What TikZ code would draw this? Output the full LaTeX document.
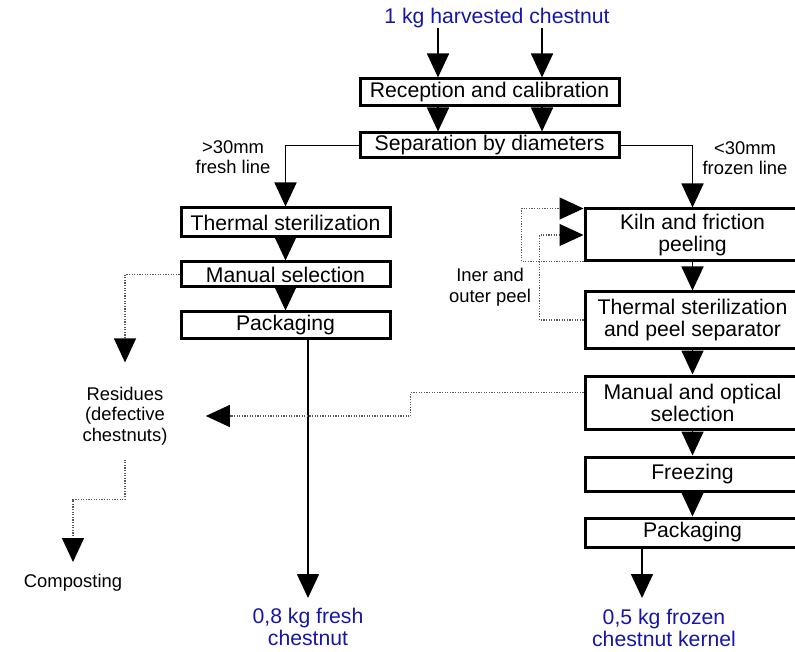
\documentclass[tikz,border=0pt]{standalone}
\usepackage{fontspec}
\setmainfont{Liberation Sans}
\usepackage{tikz}
\usetikzlibrary{arrows.meta,calc}
\definecolor{massblue}{RGB}{22,22,168}
\definecolor{dotgray}{RGB}{90,90,90}

\begin{document}
\begin{tikzpicture}[x=0.5pt,y=-0.5pt,
  procbox/.style={draw, line width=1.5pt, inner sep=0pt, align=center, font=\fontsize{10.6}{11}\selectfont},
  note/.style={inner sep=0pt, align=center, font=\fontsize{9.2}{10.3}\selectfont},
  mass/.style={inner sep=0pt, align=center, text=massblue, font=\fontsize{10.6}{11.2}\selectfont},
  flow/.style={line width=0.85pt, -{Triangle[length=12pt,width=11pt]}},
  waste/.style={line width=0.6pt, draw=dotgray, dash pattern=on 0.6pt off 0.7pt, -{Triangle[length=12pt,width=11pt,color=black,fill=black]}}]
\useasboundingbox (0,0) rectangle (795,651);

% input and common steps
\node[mass] (harvest) at (497,18) {1 kg harvested chestnut};
\node[procbox, minimum width=129.5pt, minimum height=13.5pt] (recep) at (489.5,92.5) {Reception and calibration};
\node[procbox, minimum width=129.5pt, minimum height=12.5pt] (separ) at (489.5,145.5) {Separation by diameters};

% fresh line
\node[procbox, minimum width=104.5pt, minimum height=14.5pt] (fsteril) at (285.5,222.5) {Thermal sterilization};
\node[procbox, minimum width=104.5pt, minimum height=12.5pt] (fselect) at (285.5,274.5) {Manual selection};
\node[procbox, minimum width=104.5pt, minimum height=13pt] (fpack) at (285.5,325) {Packaging};

% frozen line
\node[procbox, minimum width=107.5pt, minimum height=26pt] (kiln) at (692.5,235) {Kiln and friction\\peeling};
\node[procbox, minimum width=107.5pt, minimum height=28pt] (zsteril) at (692.5,320) {Thermal sterilization\\and peel separator};
\node[procbox, minimum width=107.5pt, minimum height=26.5pt] (zselect) at (692.5,402.5) {Manual and optical\\selection};
\node[procbox, minimum width=107.5pt, minimum height=17pt] (zfreeze) at (692.5,474) {Freezing};
\node[procbox, minimum width=107.5pt, minimum height=14.5pt] (zpack) at (692.5,532.5) {Packaging};

% labels
\node[note] (bigcut) at (233,157) {>30mm\\fresh line};
\node[note] (smallcut) at (745,158) {<30mm\\frozen line};
\node[note] (peel) at (490,287) {Iner and\\outer peel};
\node[note] (resid) at (125,416) {Residues\\(defective\\chestnuts)};
\node[note] (compost) at (73,583) {Composting};
\node[mass] (fresh) at (308,627) {0,8 kg fresh\\chestnut};
\node[mass] (frozen) at (664,628) {0,5 kg frozen\\chestnut kernel};

% main flow
\coordinate (inA) at (438,28);
\coordinate (inB) at (542,28);
\foreach \c in {inA,inB} {
  \draw[flow] (\c) -- (\c |- recep.north);
  \draw[flow] (\c |- recep.south) -- (\c |- separ.north);
}
\draw[flow] (separ.west) -| (fsteril.north);
\draw[flow] (separ.east) -| (kiln.north);
\foreach \a/\b in {fsteril/fselect, fselect/fpack, kiln/zsteril, zsteril/zselect, zselect/zfreeze, zfreeze/zpack}
  \draw[flow] (\a) -- (\b);
\coordinate (outF) at (308,598);
\coordinate (outZ) at (642,598);
\draw[flow] (fpack.south -| outF) -- (outF);
\draw[flow] (zpack.south -| outZ) -- (outZ);

% peel return
\draw[waste] ($(kiln.south west)+(0,-1)$) -- ++(-62,0) |- ($(kiln.north west)+(0,1)$);
\draw[waste] (zsteril.west) -- ++(-44,0) |- (kiln.west);

% residues
\draw[waste] (fselect.west) -| ([yshift=12pt]resid.north);
\draw[waste] ([yshift=5pt]zselect.west) -- ++(-173,0) |- ([xshift=19pt]resid.east);
\draw[waste] ([yshift=-7pt]resid.south) -- ++(0,40) -| ([yshift=6pt]compost.north);
\end{tikzpicture}
\end{document}
